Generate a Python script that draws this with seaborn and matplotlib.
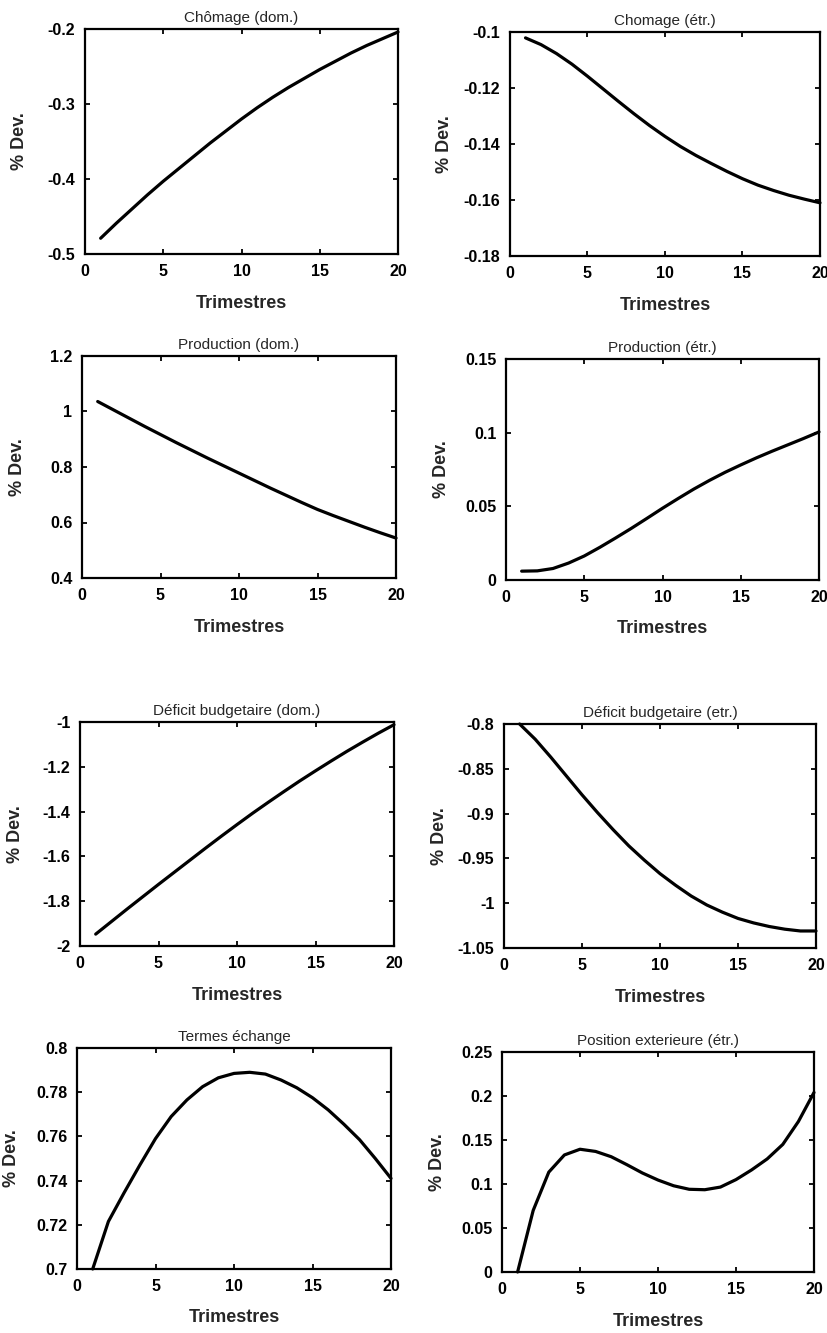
import matplotlib
matplotlib.use("Agg")
import matplotlib.pyplot as plt
import matplotlib.ticker as mticker
import pandas as pd
import seaborn as sns

# Quarters after the shock
trimestres = list(range(1, 21))

# Impulse responses (% deviation from steady state)
chomage_dom = [-0.479, -0.459, -0.440, -0.421, -0.403, -0.386, -0.369, -0.352, -0.336, -0.320,
               -0.305, -0.291, -0.278, -0.266, -0.254, -0.243, -0.232, -0.222, -0.213, -0.204]
chomage_etr = [-0.1021, -0.1045, -0.1077, -0.1115, -0.1158, -0.1203, -0.1248, -0.1292, -0.1334, -0.1373,
               -0.1409, -0.1441, -0.1470, -0.1498, -0.1524, -0.1547, -0.1566, -0.1583, -0.1597, -0.1610]
production_dom = [1.036, 1.006, 0.976, 0.946, 0.917, 0.888, 0.860, 0.832, 0.805, 0.778,
                  0.751, 0.724, 0.698, 0.672, 0.647, 0.625, 0.604, 0.583, 0.563, 0.544]
production_etr = [0.0060, 0.0062, 0.0078, 0.0115, 0.0163, 0.0222, 0.0285, 0.0350, 0.0418, 0.0487,
                  0.0553, 0.0617, 0.0676, 0.0731, 0.0781, 0.0829, 0.0874, 0.0917, 0.0960, 0.1005]
deficit_dom = [-1.947, -1.891, -1.835, -1.780, -1.725, -1.671, -1.617, -1.563, -1.510, -1.458,
               -1.407, -1.358, -1.310, -1.263, -1.218, -1.174, -1.131, -1.090, -1.050, -1.012]
deficit_etr = [-0.800, -0.817, -0.837, -0.858, -0.879, -0.899, -0.918, -0.936, -0.952, -0.967,
               -0.980, -0.992, -1.002, -1.010, -1.017, -1.022, -1.026, -1.029, -1.031, -1.031]
termes_echange = [0.7000, 0.7215, 0.7345, 0.7470, 0.7590, 0.7690, 0.7765, 0.7825, 0.7865, 0.7885,
                  0.7890, 0.7882, 0.7855, 0.7820, 0.7775, 0.7720, 0.7655, 0.7585, 0.7500, 0.7410]
position_ext = [0.0000, 0.0700, 0.1135, 0.1330, 0.1395, 0.1370, 0.1310, 0.1220, 0.1125, 0.1045,
                0.0980, 0.0940, 0.0935, 0.0965, 0.1050, 0.1160, 0.1285, 0.1450, 0.1710, 0.2040]

titres = ["Chômage (dom.)", "Chomage (étr.)", "Production (dom.)", "Production (étr.)",
          "Déficit budgetaire (dom.)", "Déficit budgetaire (etr.)", "Termes échange",
          "Position exterieure (étr.)"]
series = [chomage_dom, chomage_etr, production_dom, production_etr,
          deficit_dom, deficit_etr, termes_echange, position_ext]
yticks = [
    [-0.5, -0.4, -0.3, -0.2],
    [-0.18, -0.16, -0.14, -0.12, -0.1],
    [0.4, 0.6, 0.8, 1.0, 1.2],
    [0, 0.05, 0.1, 0.15],
    [-2, -1.8, -1.6, -1.4, -1.2, -1],
    [-1.05, -1, -0.95, -0.9, -0.85, -0.8],
    [0.7, 0.72, 0.74, 0.76, 0.78, 0.8],
    [0, 0.05, 0.1, 0.15, 0.2, 0.25],
]
xticks = [0, 5, 10, 15, 20]

# Axes boxes in pixels: left, top, right, bottom
W, H = 827, 1333
boxes = [
    (85, 29, 398, 254), (510, 32, 820, 256),
    (82, 356, 396, 578), (506, 359, 819, 580),
    (80, 722, 394, 946), (504, 724, 816, 948),
    (77, 1048, 391, 1269), (502, 1052, 814, 1272),
]

sns.set_style("ticks")
plt.rcParams["font.family"] = ["Liberation Sans", "DejaVu Sans"]
plt.rcParams["axes.unicode_minus"] = False

fig = plt.figure(figsize=(W / 100, H / 100), dpi=100)
fmt = mticker.FuncFormatter(lambda v, p: "%g" % round(v, 4))

for titre, y, ticks, (l, t, r, b) in zip(titres, series, yticks, boxes):
    ax = fig.add_axes([l / W, 1 - b / H, (r - l) / W, (b - t) / H])
    df = pd.DataFrame({"Trimestres": trimestres, "dev": y})
    sns.lineplot(data=df, x="Trimestres", y="dev", ax=ax, color="black",
                 linewidth=2.3, clip_on=False)
    ax.set_xlim(0, 20)
    ax.set_ylim(ticks[0], ticks[-1])
    ax.set_xticks(xticks)
    ax.set_yticks(ticks)
    ax.xaxis.set_major_formatter(fmt)
    ax.yaxis.set_major_formatter(fmt)
    ax.tick_params(direction="in", top=True, right=True, length=3.5, width=1.3,
                   labelsize=11.5, pad=7, colors="black")
    for lab in ax.get_xticklabels() + ax.get_yticklabels():
        lab.set_fontweight("bold")
    for sp in ax.spines.values():
        sp.set_linewidth(1.6)
        sp.set_color("black")
        sp.set_visible(True)
    ax.set_title(titre, fontsize=11, pad=5)
    ax.set_xlabel("Trimestres", fontsize=13, fontweight="bold")
    ax.set_ylabel("% Dev.", fontsize=13, fontweight="bold")
    wpx, hpx = r - l, b - t
    ax.xaxis.set_label_coords(0.5, -49 / hpx)
    ax.xaxis.label.set_va("center")
    ax.yaxis.set_label_coords(-65 / wpx, 0.5)
    ax.yaxis.label.set_va("center")

fig.savefig("out.png", dpi=100, facecolor="white")
